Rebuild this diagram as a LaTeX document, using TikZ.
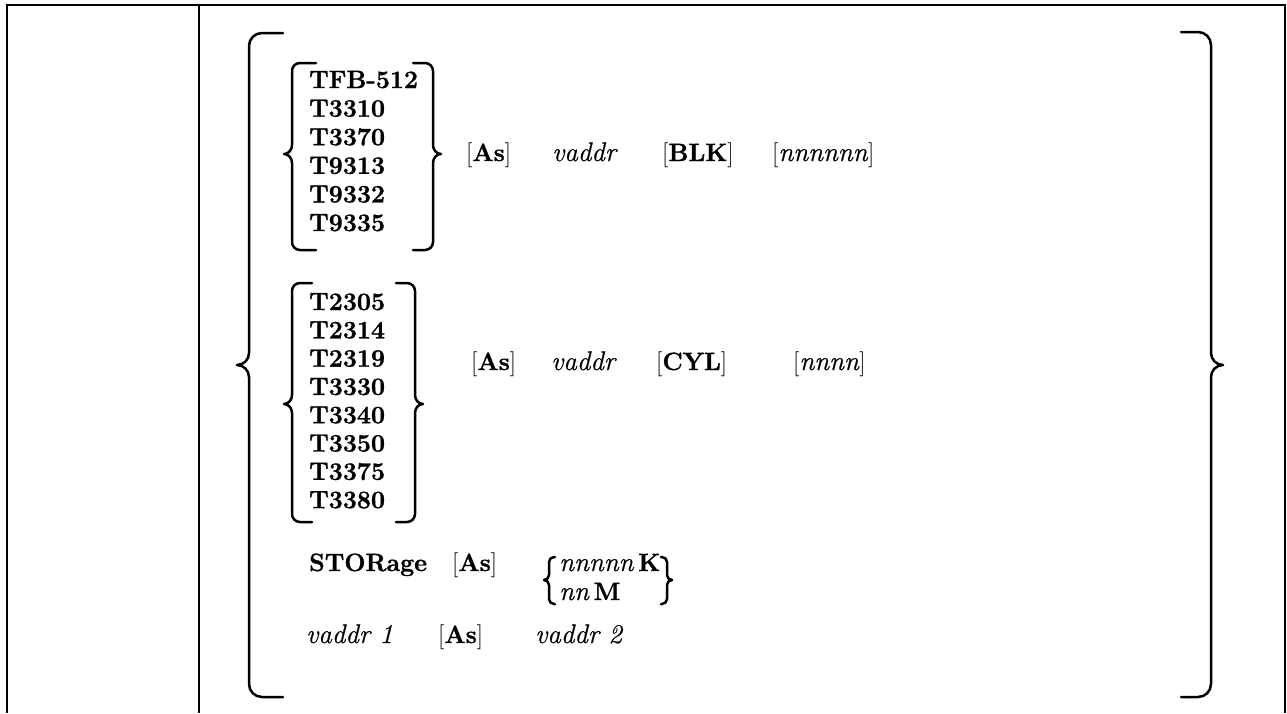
\documentclass[tikz,border=0pt]{standalone}
\usepackage{fontspec}
\setmainfont{Latin Modern Roman}[
  BoldFeatures={FakeBold=1.2},
  ItalicFeatures={FakeBold=0.6}]
% left curly brace: end x, spine x, tip x, top y, tip y, bottom y, corner radius, tip half-height
\newcommand\CurlL[8]{%
  \draw[curl] (#1,#4) -- ({#2+#7},#4) to[out=180,in=90] (#2,{#4+#7})
    -- (#2,{#5-#8}) to[out=-90,in=0] (#3,#5) to[out=0,in=90] (#2,{#5+#8})
    -- (#2,{#6-#7}) to[out=-90,in=180] ({#2+#7},#6) -- (#1,#6);}
% right curly brace, same arguments mirrored
\newcommand\CurlR[8]{%
  \draw[curl] (#1,#4) -- ({#2-#7},#4) to[out=0,in=90] (#2,{#4+#7})
    -- (#2,{#5-#8}) to[out=-90,in=180] (#3,#5) to[out=180,in=90] (#2,{#5+#8})
    -- (#2,{#6-#7}) to[out=-90,in=0] ({#2-#7},#6) -- (#1,#6);}
\newcommand\opt[1]{{\mdseries[}#1{\mdseries]}}
\newcommand\var[1]{{\fontsize{27}{30}\selectfont\itshape #1\/}}
\begin{document}
\begin{tikzpicture}[x=1pt,y=-1pt,
  frame/.style={line width=1.6pt},
  curl/.style={line width=2.5pt,line cap=round,line join=round},
  txt/.style={anchor=base west,inner sep=0pt,font=\fontsize{25}{28}\selectfont},
  dev/.style={txt,font=\fontsize{25}{28}\selectfont\bfseries}]
\useasboundingbox (0,0) rectangle (1287,713);

% table frame and column divider
\draw[frame] (7,713) -- (7,5) -- (1285,5) -- (1285,713);
\draw[frame] (199,5) -- (199,713);

% outer braces
\CurlL{283}{249}{237}{33}{365}{697}{13}{12}
\CurlR{1181}{1211}{1223}{32}{365}{697}{13}{12}

% first device group
\foreach \t [count=\i] in {TFB-512,T3310,T3370,T9313,T9332,T9335}
  \node[dev] (a\i) at (309,{88+28.6*(\i-1)}) {\t};
\CurlL{316}{292}{284}{63}{154}{250}{8}{9}
\CurlR{413}{433}{441}{63}{154}{250}{8}{9}
\node[dev] (as1) at (466,161) {\opt{As}};
\node[txt] (va1) at (552,161) {\var{vaddr}};
\node[dev] (blk) at (662,161) {\opt{BLK}};
\node[txt] (n1) at (772,161) {\opt{\var{nnnnnn}}};

% second device group
\foreach \t [count=\i] in {T2305,T2314,T2319,T3330,T3340,T3350,T3375,T3380}
  \node[dev] (b\i) at (309,{310+28.3*(\i-1)}) {\t};
\CurlL{312}{292}{284}{283}{404}{522}{8}{9}
\CurlR{396}{415}{423}{283}{404}{522}{8}{9}
\node[dev] (as2) at (471,370) {\opt{As}};
\node[txt] (va2) at (551,370) {\var{vaddr}};
\node[dev] (cyl) at (656,370) {\opt{CYL}};
\node[txt] (n2) at (793,370) {\opt{\var{nnnn}}};

% storage line
\node[dev] (sto) at (309,571) {STORage};
\node[dev] (as3) at (452,571) {\opt{As}};
\CurlL{555}{549}{544}{557}{580}{604}{5}{5}
\CurlR{661}{667}{672}{557}{580}{604}{5}{5}
\node[txt] (kk) at (559,571) {\var{nnnnn}\,\textbf{K}};
\node[txt] (mm) at (559,600) {\var{nn}\,\textbf{M}};

% address range line
\node[txt] (v1) at (306,643) {\var{vaddr 1}};
\node[dev] (as4) at (438,643) {\opt{As}};
\node[txt] (v2) at (535,643) {\var{vaddr 2}};
\end{tikzpicture}
\end{document}
